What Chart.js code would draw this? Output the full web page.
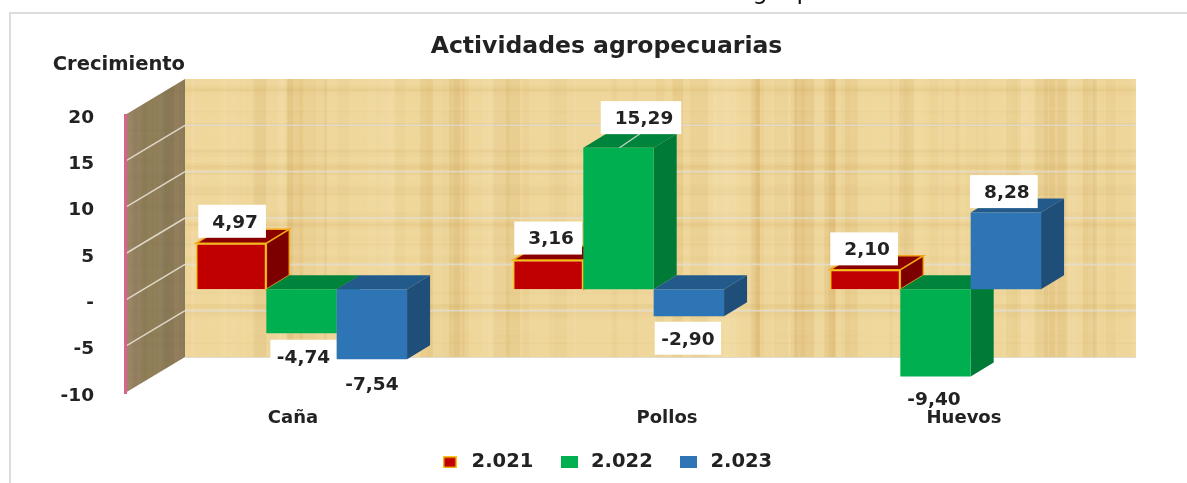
<!DOCTYPE html>
<html lang="es">
<head>
<meta charset="utf-8">
<style>html,body{margin:0;padding:0;background:#fff}canvas{display:block}</style>
<script src="https://cdn.jsdelivr.net/npm/chart.js@4/dist/chart.umd.min.js"></script>
</head>
<body>
<div style="width:1187px;height:483px"><canvas id="c" width="1187" height="483"></canvas></div>
<script>
const categories = ['Caña', 'Pollos', 'Huevos'];
const years = ['2.021', '2.022', '2.023'];
const values2021 = [4.97, 3.16, 2.10];
const values2022 = [-4.74, 15.29, -9.40];
const values2023 = [-7.54, -2.90, 8.28];

const FONT = '"DejaVu Sans", sans-serif';
const INK = '#222222';
const fmt = v => v.toFixed(2).replace('.', ',');

const style3d = [
  {front:'#c00000', side:'#7d0000', top:'#8a0000', edge:'#f2a516'},
  {front:'#00b050', side:'#007a37', top:'#00843c', edge:null},
  {front:'#2e75b6', side:'#1f4e79', top:'#225a8c', edge:null}
];
const BAR_SHIFT = {x:18, y:-11};
const BAR_DEPTH = {x:23, y:-14};
const WALL_DEPTH = {x:60, y:-36};
const labelNudge = [
  [[4,-22],[3,-22],[2,-21]],
  [[2,23],[25.5,-30],[-1.5,22.5]],
  [[0,24],[-1,22],[1,-21]]
];
const xLabelNudge = [9.5, 66.5, 46.5];
const yLabelDrop = 3;

function wallTexture(w, h, base, strong, dark, light) {
  const t = document.createElement('canvas');
  t.width = w; t.height = h;
  const g = t.getContext('2d');
  g.fillStyle = base; g.fillRect(0, 0, w, h);
  let s = 7;
  const next = () => (s = (s * 1103515245 + 12345) % 2147483648) / 2147483648;
  for (let i = 0; i < 130; i++) {
    const x = next() * w, bw = 2 + next() * 16;
    g.fillStyle = (next() > .5 ? dark : light) + (next() * strong) + ')';
    g.fillRect(x, 0, bw, h);
  }
  for (let i = 0; i < 70; i++) {
    const y = next() * h, bh = 1 + next() * 4;
    g.fillStyle = (next() > .5 ? dark : light) + (next() * strong * .6) + ')';
    g.fillRect(0, y, w, bh);
  }
  return t;
}
function legendMark(w, h, fill, edge) {
  const t = document.createElement('canvas');
  t.width = w; t.height = h;
  const g = t.getContext('2d');
  g.fillStyle = edge || fill; g.fillRect(0, 0, w, h);
  g.fillStyle = fill; g.fillRect(1.5, 1.5, w - 3, h - 3);
  return t;
}
const backTex = wallTexture(951, 278, '#efd79c', .13, 'rgba(190,140,50,', 'rgba(255,240,200,');
const sideTex = wallTexture(60, 320, '#9d8b67', .025, 'rgba(80,65,40,', 'rgba(190,175,140,');

const scene = {
  id: 'scene',
  afterLayout(chart) {
    const t = chart.titleBlock, l = chart.legend;
    const dt = 606.5 - (t.left + t.right) / 2;
    t.left += dt; t.right += dt;
    const dl = 605 - (l.left + l.right) / 2;
    l.left += dl; l.right += dl;
    l.top -= 1;
  },
  beforeDraw(chart) {
    const ctx = chart.ctx, x = chart.scales.x, y = chart.scales.y;
    const L = x.left, R = x.right, T = y.getPixelForValue(20), B = y.getPixelForValue(-10);
    const D = WALL_DEPTH;

    ctx.save();
    // clipped line of the slide above the frame
    ctx.fillStyle = '#111'; ctx.font = '24px ' + FONT;
    ctx.textAlign = 'center'; ctx.textBaseline = 'alphabetic';
    ctx.fillText('g', 760, -1); ctx.fillText('p', 804, -1);

    ctx.strokeStyle = '#dcdcdc'; ctx.lineWidth = 2;
    ctx.beginPath(); ctx.moveTo(10, 483); ctx.lineTo(10, 13); ctx.lineTo(1187, 13); ctx.stroke();

    // back wall
    ctx.drawImage(backTex, L + D.x, T + D.y, R - L, B - T);
    // side wall
    ctx.save();
    ctx.beginPath();
    ctx.moveTo(L, T); ctx.lineTo(L + D.x, T + D.y); ctx.lineTo(L + D.x, B + D.y); ctx.lineTo(L, B); ctx.closePath();
    ctx.clip();
    ctx.drawImage(sideTex, L, T + D.y, D.x, B - T - D.y);
    ctx.restore();
    // floor edge
    ctx.strokeStyle = '#dedbd2'; ctx.lineWidth = 1;
    ctx.beginPath(); ctx.moveTo(L + D.x, B + D.y + .5); ctx.lineTo(R + D.x, B + D.y + .5); ctx.stroke();
    // gridlines from the value axis
    ctx.lineWidth = 1.5;
    y.ticks.forEach(t => {
      if (t.value === 20 || t.value === -10) return;
      const p = y.getPixelForValue(t.value);
      ctx.strokeStyle = 'rgba(222,222,222,.7)';
      ctx.beginPath(); ctx.moveTo(L + D.x, p + D.y); ctx.lineTo(R + D.x, p + D.y); ctx.stroke();
      ctx.strokeStyle = 'rgba(235,230,215,.85)';
      ctx.beginPath(); ctx.moveTo(L, p); ctx.lineTo(L + D.x, p + D.y); ctx.stroke();
    });
    // axis heading
    ctx.fillStyle = INK; ctx.font = 'bold 19.5px ' + FONT;
    ctx.textAlign = 'right'; ctx.textBaseline = 'middle';
    ctx.fillText('Crecimiento', 185, 65);
    ctx.restore();

    // label placement on both axes
    x.getLabelItems().forEach((it, i) => {
      if (it.options.nudged) return;
      it.options.nudged = true;
      it.options.translation = [it.options.translation[0] + xLabelNudge[i], it.options.translation[1]];
    });
    y.getLabelItems().forEach(it => {
      if (it.options.nudged) return;
      it.options.nudged = true;
      it.options.translation = [it.options.translation[0], it.options.translation[1] + yLabelDrop];
    });
  },
  beforeDatasetsDraw(chart) {
    const ctx = chart.ctx;
    const d = BAR_DEPTH;
    chart.data.datasets.forEach((ds, di) => {
      const meta = chart.getDatasetMeta(di), st = style3d[di];
      meta.data.forEach((el, i) => {
        const {x, y, base, width} = el.getProps(['x', 'y', 'base', 'width'], true);
        const l = x - width / 2, r = x + width / 2, top = Math.min(y, base), bot = Math.max(y, base);
        ctx.save();
        ctx.translate(BAR_SHIFT.x, BAR_SHIFT.y);
        const face = (pts, fill) => {
          ctx.beginPath();
          pts.forEach((p, k) => k ? ctx.lineTo(p[0], p[1]) : ctx.moveTo(p[0], p[1]));
          ctx.closePath();
          ctx.fillStyle = fill; ctx.fill();
          if (st.edge) { ctx.strokeStyle = st.edge; ctx.lineWidth = 1.5; ctx.stroke(); }
        };
        face([[l, top], [l + d.x, top + d.y], [r + d.x, top + d.y], [r, top]], st.top);
        face([[r, top], [r + d.x, top + d.y], [r + d.x, bot + d.y], [r, bot]], st.side);
        el.draw(ctx);
        ctx.restore();

        // value label
        const v = ds.data[i], n = labelNudge[di][i];
        const cx = x + BAR_SHIFT.x + n[0], cy = y + BAR_SHIFT.y + n[1];
        ctx.save();
        ctx.font = 'bold 18.5px ' + FONT;
        const txt = fmt(v), tw = ctx.measureText(txt).width;
        if (v === 15.29) {
          ctx.strokeStyle = '#c9d6c9'; ctx.lineWidth = 1.2;
          ctx.beginPath(); ctx.moveTo(x + BAR_SHIFT.x + 1, y + BAR_SHIFT.y); ctx.lineTo(cx - 4, cy + 16); ctx.stroke();
        }
        ctx.fillStyle = '#ffffff';
        if (v > 0) ctx.fillRect(cx - tw / 2 - 14, cy - 16.5, tw + 22, 33);
        else ctx.fillRect(cx - tw / 2 - 6.5, cy - 16.5, tw + 13, 33);
        ctx.fillStyle = INK; ctx.textAlign = 'center'; ctx.textBaseline = 'middle';
        ctx.fillText(txt, cx, cy + 1.5);
        ctx.restore();
      });
    });
    return false;
  }
};

const series = [values2021, values2022, values2023];
new Chart(document.getElementById('c'), {
  type: 'bar',
  plugins: [scene],
  data: {
    labels: categories,
    datasets: years.map((label, i) => ({
      label, data: series[i],
      backgroundColor: style3d[i].front,
      borderColor: style3d[i].edge ? '#f5c518' : style3d[i].front,
      borderWidth: style3d[i].edge ? 1.5 : 0,
      categoryPercentage: .666, barPercentage: 1
    }))
  },
  options: {
    responsive: false, animation: false,
    layout: {padding: {left: 0, right: 111, top: 0, bottom: 0}},
    plugins: {
      tooltip: {enabled: false},
      title: {
        display: true, text: 'Actividades agropecuarias', color: INK, fullSize: true,
        font: {family: FONT, size: 23.5, weight: 'bold', lineHeight: 1.2},
        padding: {top: 33, bottom: 53.8}
      },
      legend: {
        position: 'bottom', fullSize: true,
        labels: {
          color: INK, font: {family: FONT, size: 19.5, weight: 'bold'},
          usePointStyle: true, pointStyleWidth: 24, padding: 24,
          generateLabels: () => years.map((y, i) => ({
            text: y, fontColor: INK, datasetIndex: i, lineWidth: 0,
            pointStyle: i === 0 ? legendMark(14, 12, style3d[0].front, '#f5c518') : legendMark(17, 12, style3d[i].front)
          }))
        }
      }
    },
    scales: {
      x: {
        grid: {display: false}, border: {display: false},
        ticks: {color: INK, font: {family: FONT, size: 18, weight: 'bold'}, z: 1, padding: 7, maxRotation: 0},
        afterFit(s) { s.height = 90 - s.chart.legend.height; }
      },
      y: {
        min: -10, max: 20,
        grid: {display: false, drawTicks: false},
        border: {display: true, color: '#d9628f', width: 3},
        ticks: {
          stepSize: 5, padding: 31, color: INK,
          font: {family: FONT, size: 18.5, weight: 'bold'},
          callback: v => v === 0 ? '-' : String(v)
        },
        afterFit(s) { s.width = 125; }
      }
    }
  }
});
</script>
</body>
</html>
